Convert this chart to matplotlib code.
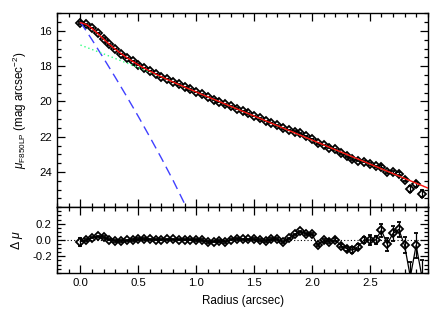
import numpy as np
import matplotlib
matplotlib.use("Agg")
import matplotlib.pyplot as plt
from matplotlib.ticker import MultipleLocator, FixedLocator

plt.rcParams['font.family'] = ['Liberation Sans', 'DejaVu Sans']
plt.rcParams['mathtext.fontset'] = 'custom'
plt.rcParams['mathtext.rm'] = 'Liberation Sans'
plt.rcParams['mathtext.it'] = 'Liberation Sans:italic'

# ---- data ----
radius = [round(0.05 * i, 2) for i in range(60)]
mu_obs = [15.55, 15.63, 15.83, 16.11, 16.43, 16.76, 17.04, 17.29, 17.52, 17.72,
          17.91, 18.09, 18.27, 18.44, 18.60, 18.74, 18.89, 19.03, 19.18, 19.32,
          19.46, 19.60, 19.76, 19.89, 20.02, 20.17, 20.28, 20.40, 20.54, 20.68,
          20.81, 20.96, 21.11, 21.22, 21.36, 21.53, 21.62, 21.71, 21.81, 21.97,
          22.11, 22.38, 22.46, 22.61, 22.72, 22.93, 23.11, 23.26, 23.35, 23.41,
          23.54, 23.68, 23.70, 24.00, 24.01, 24.09, 24.43, 24.95, 24.70, 25.22]
mu_err = [0.05, 0.01, 0.01, 0.01, 0.01, 0.01, 0.01, 0.01, 0.01, 0.01,
          0.01, 0.01, 0.01, 0.01, 0.01, 0.01, 0.01, 0.01, 0.01, 0.01,
          0.01, 0.01, 0.01, 0.01, 0.01, 0.01, 0.01, 0.01, 0.01, 0.01,
          0.01, 0.01, 0.01, 0.01, 0.01, 0.01, 0.01, 0.01, 0.01, 0.01,
          0.01, 0.015, 0.015, 0.015, 0.015, 0.02, 0.025, 0.035, 0.03, 0.04,
          0.06, 0.05, 0.08, 0.08, 0.09, 0.09, 0.10, 0.18, 0.15, 0.20]
delta_mu = [-0.02, 0.00, 0.03, 0.045, 0.035, 0.005, -0.01, -0.01, -0.005, 0.0,
            0.01, 0.012, 0.008, 0.005, 0.005, 0.008, 0.008, 0.005, 0.005, 0.005,
            0.003, 0.0, -0.025, -0.02, -0.01, -0.022, 0.005, 0.015, 0.008, 0.008,
            0.01, 0.0, -0.012, 0.012, 0.012, -0.028, 0.02, 0.068, 0.105, 0.075,
            0.07, -0.06, -0.005, -0.02, 0.005, -0.07, -0.105, -0.125, -0.08, 0.0,
            0.0, 0.0, 0.12, -0.05, 0.08, 0.13, -0.065, -0.45, -0.065, -0.45]

# total model (red)
model_r = [round(0.05 * i, 2) for i in range(61)]
model_mu = [15.53, 15.63, 15.86, 16.15, 16.46, 16.76, 17.03, 17.28, 17.51, 17.72,
            17.92, 18.105, 18.28, 18.445, 18.60, 18.75, 18.895, 19.04, 19.18, 19.32,
            19.46, 19.60, 19.736, 19.872, 20.008, 20.144, 20.28, 20.416, 20.552, 20.688,
            20.824, 20.96, 21.096, 21.232, 21.368, 21.504, 21.64, 21.776, 21.912, 22.048,
            22.184, 22.32, 22.456, 22.592, 22.728, 22.864, 23.0, 23.136, 23.272, 23.408,
            23.544, 23.68, 23.816, 23.952, 24.088, 24.224, 24.36, 24.496, 24.632, 24.768,
            24.904]
# disk component (green dotted)
disk_r = [0.0, 0.1, 0.2, 0.3, 0.4, 0.5, 0.6, 0.7, 0.8, 0.9, 1.0, 1.5, 2.0, 2.5, 3.0]
disk_mu = [16.80, 17.05, 17.30, 17.56, 17.82, 18.08, 18.34, 18.62, 18.91, 19.19,
           19.47, 20.83, 22.19, 23.55, 24.91]
# bulge component (blue dashed)
bulge_r = [0.0, 0.1, 0.2, 0.3, 0.4, 0.5, 0.6, 0.7, 0.8, 0.9, 1.0]
bulge_mu = [15.50, 16.50, 17.55, 18.62, 19.72, 20.85, 22.02, 23.22, 24.47, 25.80, 27.2]

xticks = [0.0, 0.5, 1.0, 1.5, 2.0, 2.5]
yticks_top = [16, 18, 20, 22, 24]
yticks_bot = [-0.2, 0.0, 0.2]

W, H = 436, 312
fig = plt.figure(figsize=(W / 100, H / 100), dpi=100)
L, R = 57.3 / W, 427.7 / W
ax1 = fig.add_axes([L, 1 - 207.3 / H, R - L, (207.3 - 13.3) / H])
ax2 = fig.add_axes([L, 1 - 272.7 / H, R - L, (272.7 - 207.3) / H])

mk = dict(fmt='D', ms=3.8, mfc='none', mec='black', mew=1.3, ecolor='black',
          elinewidth=0.9, capsize=1.6, capthick=0.9)

ax1.errorbar(radius, mu_obs, yerr=mu_err, zorder=2, **mk)
ax1.plot(bulge_r, bulge_mu, color='#4040ff', lw=1.0, ls=(0, (7, 4)), zorder=3)
ax1.plot(disk_r, disk_mu, color='#30ff80', lw=1.0, ls=(0, (1, 2)), zorder=3)
ax1.plot(model_r, model_mu, color='#ff1010', lw=1.0, zorder=4)
ax1.set_xlim(-0.2, 3.0)
ax1.set_ylim(26, 15)

ax2.plot(radius, delta_mu, color='black', lw=0.9, zorder=2)
ax2.errorbar(radius, delta_mu, yerr=mu_err, zorder=3, **mk)
ax2.axhline(0, color='black', lw=0.8, ls=(0, (1, 2)), zorder=1)
ax2.set_xlim(-0.2, 3.0)
ax2.set_ylim(-0.4, 0.4)

for ax in (ax1, ax2):
    ax.xaxis.set_major_locator(FixedLocator(xticks))
    ax.xaxis.set_minor_locator(MultipleLocator(0.1))
    ax.tick_params(which='both', direction='in', top=True, right=True,
                   labelsize=8.2, width=0.9, pad=4)
    ax.tick_params(which='major', length=6)
    ax.tick_params(which='minor', length=3)
    for s in ax.spines.values():
        s.set_linewidth(1.0)

ax1.yaxis.set_major_locator(FixedLocator(yticks_top))
ax1.yaxis.set_minor_locator(MultipleLocator(0.5))
ax1.tick_params(labelbottom=False)
ax2.yaxis.set_major_locator(FixedLocator(yticks_bot))
ax2.yaxis.set_minor_locator(MultipleLocator(0.05))
ax2.set_yticklabels(['-0.2', '0.0', '0.2'])
ax2.set_xticklabels(['0.0', '0.5', '1.0', '1.5', '2.0', '2.5'])

ax1.set_ylabel(r'$\mu_{\rm F850LP}$ (mag arcsec$^{-2}$)', fontsize=8.4, labelpad=7)
ax2.set_ylabel(r'$\Delta\ \mu$', fontsize=8.8, labelpad=5)
ax2.set_xlabel('Radius (arcsec)', fontsize=8.4, labelpad=5)

fig.savefig('out.png', dpi=100)
